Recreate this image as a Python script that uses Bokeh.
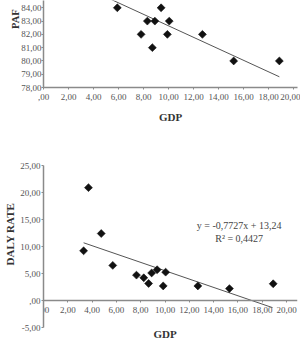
import math
from bokeh.plotting import figure
from bokeh.layouts import column
from bokeh.models import CustomJSTickFormatter, FixedTicker, Label, Range1d, Title
from bokeh.embed import file_html
from bokeh.resources import INLINE

# --- data -------------------------------------------------------------
# PAF vs GDP (upper panel)
gdp_paf = [5.9, 7.8, 8.3, 8.7, 8.9, 9.4, 9.9, 10.05, 12.7, 15.2, 18.85]
paf = [84, 82, 83, 81, 83, 84, 82, 83, 82, 80, 80]
paf_fit = [-0.433, 86.97]          # slope, intercept

# DALY rate vs GDP (lower panel)
gdp_daly = [3.3, 3.7, 4.75, 5.7, 7.65, 8.25, 8.65, 8.9, 9.35, 9.85, 10.05, 12.7, 15.3, 18.9]
daly = [9.2, 20.9, 12.4, 6.5, 4.7, 4.2, 3.15, 5.1, 5.7, 2.7, 5.25, 2.7, 2.2, 3.1]
daly_fit = [-0.7727, 13.24]        # slope, intercept
daly_r2 = 0.4427

fit_x = [3.3, 18.85]               # fitted line spans the GDP range

paf_ticks = [78, 79, 80, 81, 82, 83, 84]
daly_ticks = [-5, 0, 5, 10, 15, 20, 25]
gdp_ticks = [0, 2, 4, 6, 8, 10, 12, 14, 16, 18, 20]

# --- styling helpers --------------------------------------------------
SERIF = "Liberation Serif"
TICK_COLOR = "#555555"
AXIS_COLOR = "#8a8a8a"
TITLE_COLOR = "#333333"
NBSP = "\u00a0"

comma_fmt = CustomJSTickFormatter(code="""
    const a = Math.abs(tick);
    let s = a.toFixed(2).replace('.', ',');
    if (a < 1) { s = s.replace(/^0/, ''); }
    return (tick < 0 ? '-' : '') + s;
""")


def style_axis(ax, ticks):
    ax.ticker = FixedTicker(ticks=ticks)
    ax.formatter = comma_fmt
    ax.major_label_text_font = SERIF
    ax.major_label_text_font_size = "9px"
    ax.major_label_text_color = TICK_COLOR
    ax.axis_line_color = AXIS_COLOR
    ax.axis_line_width = 1.5
    ax.major_tick_line_color = AXIS_COLOR
    ax.major_tick_out = 2
    ax.major_tick_in = 0
    ax.minor_tick_out = 0
    ax.minor_tick_in = 0
    ax.minor_tick_line_color = None
    ax.axis_label_text_font = SERIF
    ax.axis_label_text_font_size = "11px"
    ax.axis_label_text_font_style = "bold"
    ax.axis_label_text_color = TITLE_COLOR


def base_fig(height, x_end, y0, y1, left, top, bottom, right):
    p = figure(width=300, height=height, output_backend="svg",
               toolbar_location=None,
               x_range=Range1d(0, x_end), y_range=Range1d(y0, y1),
               min_border_left=left, min_border_top=top,
               min_border_bottom=bottom, min_border_right=right)
    p.outline_line_color = None
    p.xgrid.visible = False
    p.ygrid.visible = False
    p.background_fill_color = "white"
    p.border_fill_color = "white"
    return p


# --- upper panel: PAF --------------------------------------------------
top = base_fig(130, 20.3, 78, 84.55, left=35, top=0, bottom=43, right=3)
style_axis(top.xaxis[0], gdp_ticks)
style_axis(top.yaxis[0], paf_ticks)
top.xaxis.axis_label = "GDP"
top.xaxis.axis_label_standoff = 8
top.xaxis.major_label_standoff = 4
top.yaxis.major_label_standoff = 0
# the title sits high on the axis, so pad it at its lower end
top.yaxis.axis_label = NBSP * 19 + "PAF"
top.yaxis.axis_label_text_font_size = "10.5px"
top.yaxis.axis_label_standoff = -3

top.line([fit_x[0], fit_x[1]],
         [paf_fit[0] * fit_x[0] + paf_fit[1], paf_fit[0] * fit_x[1] + paf_fit[1]],
         line_color="#555555", line_width=1)
top.scatter(gdp_paf, paf, marker="square", angle=math.pi / 4, size=5.6,
            fill_color="#111111", line_color="#111111", line_width=0.6)

# --- lower panel: DALY rate ---------------------------------------------
bot = base_fig(216, 20.9, -5, 25, left=43, top=35, bottom=19, right=0)
style_axis(bot.xaxis[0], gdp_ticks)
style_axis(bot.yaxis[0], daly_ticks)
bot.xaxis.fixed_location = 0
bot.xaxis.major_label_standoff = 4
bot.yaxis.major_label_standoff = 1
bot.yaxis.axis_label = NBSP * 9 + "DALY RATE"
bot.yaxis.axis_label_standoff = 1

bot.line([fit_x[0], fit_x[1]],
         [daly_fit[0] * fit_x[0] + daly_fit[1], daly_fit[0] * fit_x[1] + daly_fit[1]],
         line_color="#555555", line_width=1)
bot.scatter(gdp_daly, daly, marker="square", angle=math.pi / 4, size=5.6,
            fill_color="#111111", line_color="#111111", line_width=0.6)

eq_text = "y = {:.4f}x + {:.2f}".format(daly_fit[0], daly_fit[1]).replace(".", ",")
r2_text = "R\u00b2 = {:.4f}".format(daly_r2).replace(".", ",")
for txt, yy in [(eq_text, 13.8), (r2_text, 11.5)]:
    bot.add_layout(Label(x=16.1, y=yy, text=txt, text_align="center",
                         text_baseline="middle", text_font=SERIF,
                         text_font_size="10px", text_color="#444444"))

# x title of the lower panel, just under the frame
bot.add_layout(Title(text="GDP", align="left", offset=110, standoff=0,
                     vertical_align="top",
                     text_font=SERIF, text_font_size="11px",
                     text_font_style="bold", text_color=TITLE_COLOR), "below")

layout = column(top, bot, spacing=0)
open("out.html", "w").write(file_html(layout, INLINE))
